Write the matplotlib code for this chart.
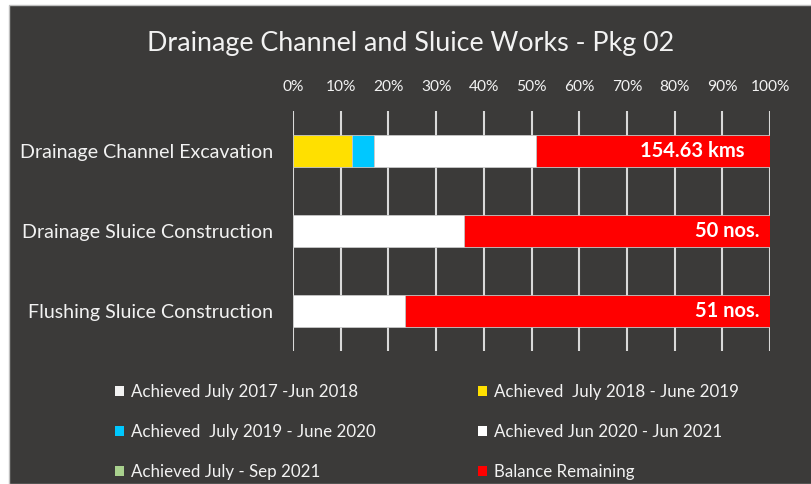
import matplotlib
matplotlib.use("Agg")
import matplotlib.pyplot as plt
from matplotlib.patches import Rectangle, Patch

categories = ["Drainage Channel Excavation", "Drainage Sluice Construction", "Flushing Sluice Construction"]
series_names = ["Achieved July 2017 -Jun 2018", "Achieved  July 2018 - June 2019",
                "Achieved  July 2019 - June 2020", "Achieved Jun 2020 - Jun 2021",
                "Achieved July - Sep 2021", "Balance Remaining"]
s1 = [0.0, 0.0, 0.0]
s2 = [12.4, 0.0, 0.0]
s3 = [4.5, 0.0, 0.0]
s4 = [34.0, 35.9, 23.5]
s5 = [0.0, 0.0, 0.0]
s6 = [49.1, 64.1, 76.5]
series_values = [s1, s2, s3, s4, s5, s6]
colors = ["#f2f2f2", "#ffe000", "#00c8ff", "#ffffff", "#a9d18e", "#ff0000"]
bar_labels = ["154.63 kms", "50 nos.", "51 nos."]
xticks = list(range(0, 101, 10))
xtick_labels = [f"{t}%" for t in xticks]

FONT = "Lato"
BG = "#3b3a39"
TXT = "#f2f2f2"

fig = plt.figure(figsize=(8.11, 4.84), dpi=100)
fig.patch.set_facecolor("white")
fig.patches.append(Rectangle((9/811, 0), 1, 1 - 5/484, transform=fig.transFigure,
                             facecolor=BG, edgecolor="#bfbfbf", linewidth=1, zorder=-5))

ax = fig.add_axes([293/811, 1 - 351/484, 477/811, 240/484])
ax.set_zorder(2)
ax.set_facecolor("none")
ypos = list(range(len(categories)))
left = [0.0] * len(categories)
for vals, col in zip(series_values, colors):
    ax.barh(ypos, vals, left=left, height=0.4, color=col, edgecolor="#c8c8c8",
            linewidth=0.6, zorder=3)
    left = [l + v for l, v in zip(left, vals)]

for y, lab in zip(ypos, bar_labels):
    ax.text(97.8 if y else 94.6, y, lab, ha="right", va="center", color="white",
            fontsize=14.5, fontweight="bold", family=FONT, zorder=4)

ax.set_xlim(0, 100)
ax.set_ylim(2.5, -0.5)
ax.set_xticks(xticks)
ax.set_xticklabels(xtick_labels)
ax.xaxis.tick_top()
ax.set_yticks(ypos)
ax.set_yticklabels(categories)
ax.tick_params(axis="x", length=0, pad=12, labelsize=11.2, labelcolor=TXT)
ax.tick_params(axis="y", length=0, pad=14, labelsize=14.1, labelcolor=TXT)
for lab in ax.get_xticklabels() + ax.get_yticklabels():
    lab.set_family(FONT)
for sp in ax.spines.values():
    sp.set_visible(False)
ax.grid(axis="x", color="#d9d9d9", linewidth=1.5, zorder=1)
ax.set_axisbelow(True)

fig.text(411/811, 1 - 43/484, "Drainage Channel and Sluice Works - Pkg 02", ha="center",
         va="center", color=TXT, fontsize=19.4, family=FONT)

handles = [Patch(facecolor=c, edgecolor="none") for c in colors]
for col, xs in ((0, 115), (1, 478)):
    idx = [col, col + 2, col + 4]
    leg = fig.legend([handles[i] for i in idx], [series_names[i] for i in idx],
                     loc="upper left", bbox_to_anchor=(xs/811, 1 - 384/484),
                     frameon=False, handlelength=0.55, handleheight=0.55,
                     handletextpad=0.4, labelspacing=1.42, borderpad=0, borderaxespad=0,
                     prop={"family": FONT, "size": 12.2})
    for t in leg.get_texts():
        t.set_color(TXT)

fig.savefig("out.png", dpi=100, facecolor=fig.get_facecolor())
